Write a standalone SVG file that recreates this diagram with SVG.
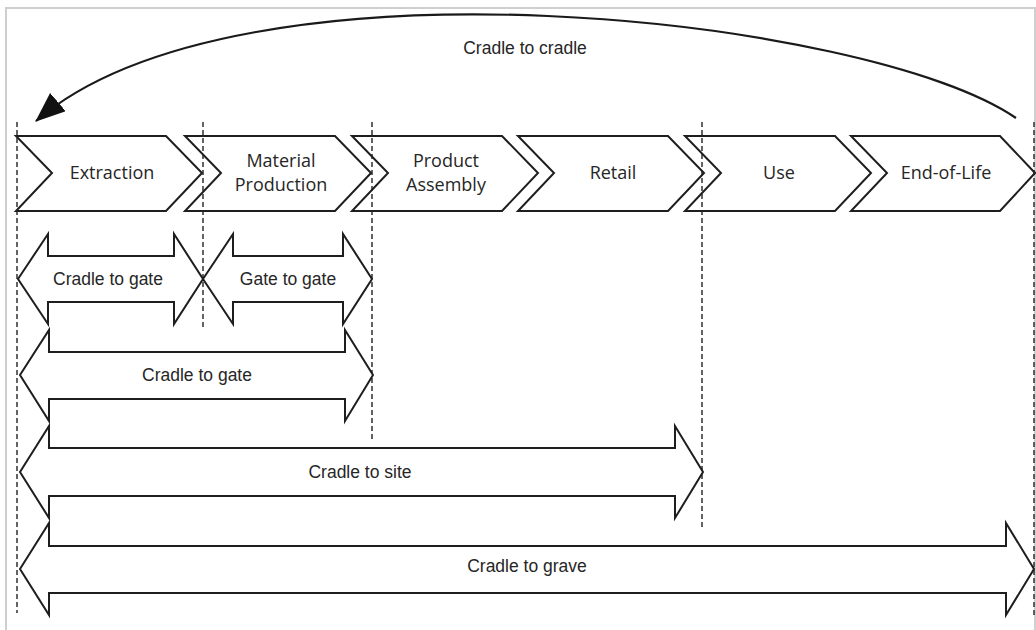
<svg xmlns="http://www.w3.org/2000/svg" width="1036" height="630" viewBox="0 0 1036 630">
  <style>
    .frame { fill: none; stroke: #cfcfcf; stroke-width: 2; }
    .stage { fill: #ffffff; stroke: #1e1e1e; stroke-width: 2; stroke-linejoin: miter; }
    .span { fill: #ffffff; stroke: #1e1e1e; stroke-width: 2; stroke-linejoin: miter; }
    .guide { fill: none; stroke: #222222; stroke-width: 1.4; stroke-dasharray: 5 3; }
    .loop { fill: none; stroke: #1a1a1a; stroke-width: 2.2; }
    .stage-label { font-family: "Open Sans", "Liberation Sans", sans-serif; font-size: 18px; fill: #262626; text-anchor: middle; }
    .span-label { font-family: "Liberation Sans", Arial, sans-serif; font-size: 17.5px; fill: #262626; text-anchor: middle; }
  </style>
  <defs>
    <marker id="loopHead" viewBox="0 0 30 24" refX="29" refY="12" markerWidth="30" markerHeight="24" markerUnits="userSpaceOnUse" orient="auto">
      <path d="M0,0 L30,12 L0,24 z" fill="#111111"/>
    </marker>
  </defs>

  <rect class="frame" x="6" y="8" width="1029" height="630"/>

  <!-- life-cycle stages -->
  <g id="stage-extraction">
    <polygon class="stage" points="16,136 166,136 202,173 166,211 16,211 52,173"/>
    <text class="stage-label" x="112" y="179">Extraction</text>
  </g>
  <g id="stage-material-production">
    <polygon class="stage" points="185,136 335,136 371,173 335,211 185,211 221,173"/>
    <text class="stage-label" x="281" y="167">Material</text>
    <text class="stage-label" x="281" y="191">Production</text>
  </g>
  <g id="stage-product-assembly">
    <polygon class="stage" points="352,136 502,136 538,173 502,211 352,211 388,173"/>
    <text class="stage-label" x="446" y="167">Product</text>
    <text class="stage-label" x="446" y="191">Assembly</text>
  </g>
  <g id="stage-retail">
    <polygon class="stage" points="518,136 668,136 704,173 668,211 518,211 554,173"/>
    <text class="stage-label" x="613" y="179">Retail</text>
  </g>
  <g id="stage-use">
    <polygon class="stage" points="685,136 835,136 871,173 835,211 685,211 721,173"/>
    <text class="stage-label" x="779" y="179">Use</text>
  </g>
  <g id="stage-end-of-life">
    <polygon class="stage" points="851,136 1000,136 1035,173 1000,211 851,211 887,173"/>
    <text class="stage-label" x="946" y="179">End-of-Life</text>
  </g>

  <!-- system boundary guides -->
  <g id="guides">
    <line class="guide" x1="17" y1="122" x2="17" y2="613"/>
    <line class="guide" x1="203" y1="122" x2="203" y2="328"/>
    <line class="guide" x1="372" y1="122" x2="372" y2="440"/>
    <line class="guide" x1="702" y1="122" x2="702" y2="527"/>
    <line class="guide" x1="1034" y1="122" x2="1034" y2="615"/>
  </g>

  <!-- assessment scopes -->
  <g id="scope-cradle-to-gate-extraction">
    <polygon class="span" points="18,279 48,234 48,256 174,256 174,234 203,279 174,324 174,302 48,302 48,324"/>
    <text class="span-label" x="108" y="285">Cradle to gate</text>
  </g>
  <g id="scope-gate-to-gate">
    <polygon class="span" points="203,279 233,234 233,256 343,256 343,234 372,279 343,324 343,302 233,302 233,324"/>
    <text class="span-label" x="288" y="285">Gate to gate</text>
  </g>
  <g id="scope-cradle-to-gate">
    <polygon class="span" points="20,375 49,330 49,352 345,352 345,330 373,375 345,421 345,399 49,399 49,421"/>
    <text class="span-label" x="197" y="381">Cradle to gate</text>
  </g>
  <g id="scope-cradle-to-site">
    <polygon class="span" points="20,472 49,426 49,448 675,448 675,426 703,472 675,518 675,496 49,496 49,518"/>
    <text class="span-label" x="360" y="478">Cradle to site</text>
  </g>
  <g id="scope-cradle-to-grave">
    <polygon class="span" points="20,569 49,523 49,546 1006,546 1006,523 1034,569 1006,615 1006,593 49,593 49,615"/>
    <text class="span-label" x="527" y="572">Cradle to grave</text>
  </g>

  <!-- circular return loop -->
  <g id="connectors">
    <path class="loop" d="M1016,118 C870,18 240,-55 36,121" marker-end="url(#loopHead)"/>
  </g>
  <g id="label-cradle-to-cradle">
    <text class="span-label" x="525" y="54">Cradle to cradle</text>
  </g>
</svg>
